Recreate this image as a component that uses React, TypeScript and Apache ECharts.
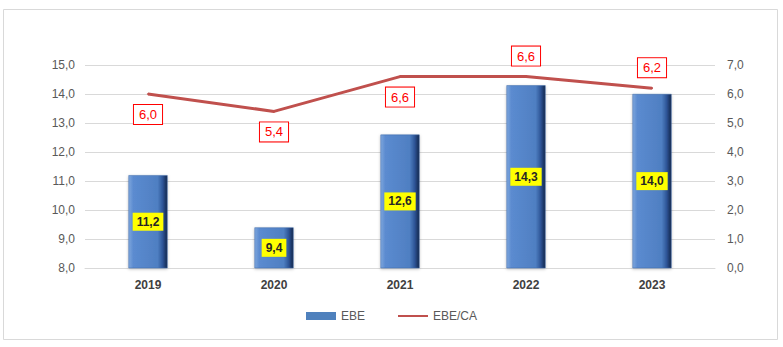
import React, { useEffect, useRef } from "react";
import * as echarts from "echarts";

const categories = ["2019", "2020", "2021", "2022", "2023"];
const ebe = [11.2, 9.4, 12.6, 14.3, 14.0];
const ebeCa = [6.0, 5.4, 6.6, 6.6, 6.2];
const ratioLabelPos = ["bottom", "bottom", "bottom", "top", "top"];

const fmt = (v: number) => v.toFixed(1).replace(".", ",");

export default function App() {
  const ref = useRef<HTMLDivElement>(null);
  useEffect(() => {
    if (!ref.current) return;
    const chart = echarts.init(ref.current, null, { renderer: "svg" });
    const barColor = new echarts.graphic.LinearGradient(0, 0, 1, 0, [
      { offset: 0, color: "#7ea6dc" },
      { offset: 0.12, color: "#5b8bd0" },
      { offset: 0.75, color: "#4f7fc2" },
      { offset: 0.88, color: "#2e5597" },
      { offset: 1, color: "#15264a" },
    ]);
    chart.setOption({
      animation: false,
      color: ["#4f81bd", "#c0504d"],
      textStyle: { fontFamily: "Liberation Sans" },
      graphic: [
        {
          type: "rect",
          shape: { x: 3.5, y: 9.5, width: 774, height: 330 },
          style: { fill: "none", stroke: "#d9d9d9", lineWidth: 1 },
          silent: true,
        },
      ],
      grid: { left: 85, right: 68, top: 65, bottom: 79 },
      legend: {
        bottom: 20,
        left: "center",
        itemGap: 32,
        itemWidth: 30,
        itemHeight: 8,
        textStyle: { color: "#595959", fontSize: 12 },
        data: [
          { name: "EBE", icon: "rect", itemStyle: { color: "#4f81bd", borderWidth: 0, shadowBlur: 0 } },
          { name: "EBE/CA", itemStyle: { opacity: 0 } },
        ],
      },
      xAxis: {
        type: "category",
        data: categories,
        axisTick: { show: false },
        axisLine: { lineStyle: { color: "#d9d9d9" } },
        axisLabel: { color: "#404040", fontWeight: "bold", fontSize: 12, margin: 11 },
      },
      yAxis: [
        {
          type: "value",
          min: 8,
          max: 15,
          interval: 1,
          axisLine: { show: false },
          axisTick: { show: false },
          splitLine: { lineStyle: { color: "#d9d9d9" } },
          axisLabel: { color: "#595959", fontSize: 12, margin: 10, formatter: (v: number) => fmt(v) },
        },
        {
          type: "value",
          min: 0,
          max: 7,
          interval: 1,
          axisLine: { show: false },
          axisTick: { show: false },
          splitLine: { show: false },
          axisLabel: { color: "#595959", fontSize: 12, margin: 12, formatter: (v: number) => fmt(v) },
        },
      ],
      series: [
        {
          name: "EBE",
          type: "bar",
          barWidth: "31%",
          data: ebe.map((v) => ({ value: v, itemStyle: { color: barColor } })),
          itemStyle: {
            color: "#4f81bd",
            borderColor: "#3c6aa8",
            borderWidth: 0.5,
            shadowColor: "rgba(0,0,0,0.25)",
            shadowBlur: 3,
            shadowOffsetY: 1,
          },
          label: {
            show: true,
            position: "inside",
            formatter: (p: any) => fmt(p.value),
            backgroundColor: "#ffff00",
            color: "#262626",
            fontWeight: "bold",
            fontSize: 12,
            padding: [3, 4],
          },
        },
        {
          name: "EBE/CA",
          type: "line",
          yAxisIndex: 1,
          data: ebeCa.map((v, i) => ({
            value: v,
            label: { position: ratioLabelPos[i] },
          })),
          symbol: "circle",
          symbolSize: 2,
          showSymbol: true,
          lineStyle: { color: "#c0504d", width: 3 },
          itemStyle: { color: "#c0504d" },
          label: {
            show: true,
            distance: 10,
            formatter: (p: any) => fmt(p.value),
            color: "#ff0000",
            fontSize: 13,
            backgroundColor: "#ffffff",
            borderColor: "#ff0000",
            borderWidth: 1,
            padding: [3, 5],
          },
        },
      ],
    });
    return () => chart.dispose();
  }, []);
  return (
    <div
      ref={ref}
      style={{ position: "absolute", left: 0, top: 0, width: 783, height: 347, background: "#fff" }}
    />
  );
}
